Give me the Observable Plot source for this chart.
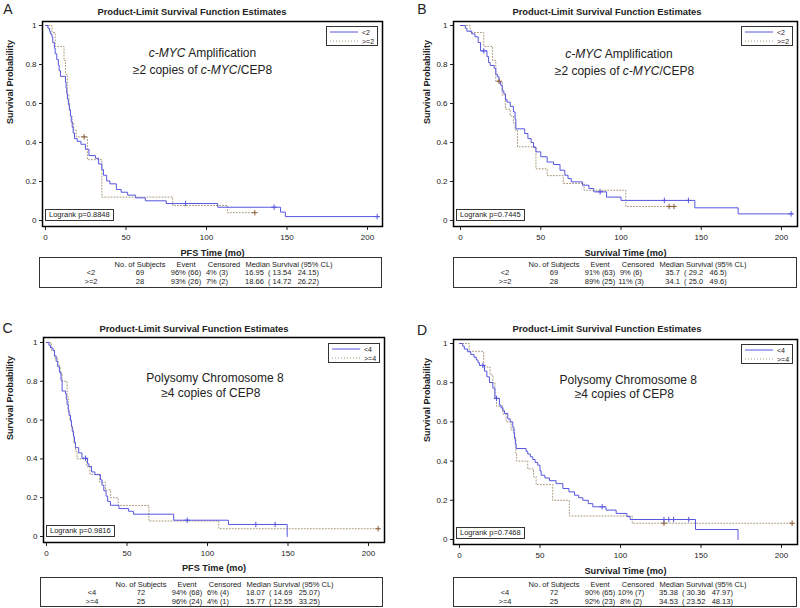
<!DOCTYPE html>
<html><head><meta charset="utf-8">
<script src="https://cdn.jsdelivr.net/npm/d3@7"></script>
<script src="https://cdn.jsdelivr.net/npm/@observablehq/plot@0.6"></script>
<style>
body{margin:0;background:#fff;font-family:"Liberation Sans",Arial,Helvetica,sans-serif;color:#222;}
#root{position:relative;width:800px;height:608px;overflow:hidden;background:#fff;}
.abs{position:absolute;}
.c{position:absolute;transform:translate(-50%,-50%);white-space:pre;line-height:1;}
.letter{font-size:14px;}
.title{font-size:9.4px;font-weight:bold;}
.ann{font-size:12px;color:#222;}
.box{position:absolute;border:1px solid #333;box-sizing:border-box;background:#fff;}
.legend{font-size:7px;}
.lg-row{position:absolute;left:3px;height:8px;display:flex;align-items:center;}
.lg-row span{margin-left:4px;line-height:1;}
.logrank{font-size:7.5px;line-height:10px;padding:0 3px;white-space:nowrap;}
.tbl{font-size:7.5px;}
</style></head><body><div id="root"></div>
<script>
// ---------- data ----------
const xTicks = [0, 50, 100, 150, 200];
const yTicks = [0, 0.2, 0.4, 0.6, 0.8, 1];
const groupsMyc = ["<2", ">=2"];
const groupsCep = ["<4", ">=4"];
const tableHeader = ["No. of Subjects", "Event", "Censored", "Median Survival (95% CL)"];

// Panel A: c-MYC, PFS
const aLow = [[0,1],[1.5,0.986],[2.5,0.971],[3,0.957],[4,0.942],[4.5,0.913],[5.5,0.884],[6,0.855],[7,0.826],[8,0.797],[8.5,0.768],[9.3,0.739],[12.4,0.71],[12.8,0.681],[13.2,0.652],[13.6,0.623],[14.2,0.594],[14.8,0.565],[15.5,0.536],[16,0.507],[16.6,0.478],[17.2,0.449],[18,0.42],[19.7,0.406],[22,0.391],[24.8,0.365],[27,0.333],[31,0.319],[33,0.29],[35,0.261],[36,0.232],[38,0.203],[40,0.188],[44,0.159],[47,0.145],[51,0.13],[56,0.116],[62,0.101],[75,0.087],[107,0.068],[146,0.043],[149,0.02],[207,0.02]];
const aHigh = [[0,1],[4,0.964],[6,0.893],[11.5,0.821],[12.4,0.75],[13.5,0.643],[14.5,0.607],[15,0.571],[15.5,0.536],[16.5,0.5],[17.5,0.464],[19,0.429],[26,0.312],[35,0.12],[79,0.077],[113,0.04],[130,0.04]];
const aLowCensor = [[87,0.087],[142,0.068],[206,0.02]];
const aHighCensor = [[24,0.429],[130,0.04]];
const tableA = [["<2","69","96%","66","4%","3","16.95","13.54","24.15"],[">=2","28","93%","26","7%","2","18.66","14.72","26.22"]];

// Panel B: c-MYC, overall survival
const bLow = [[0,1],[3,0.986],[4,0.971],[7,0.957],[9,0.942],[11,0.913],[12.5,0.87],[16.5,0.84],[17.5,0.81],[18.5,0.795],[21,0.78],[22,0.75],[23,0.737],[24,0.71],[25,0.694],[26,0.665],[27,0.65],[28,0.62],[29,0.607],[31,0.585],[33,0.557],[34,0.52],[34.5,0.47],[40,0.446],[42,0.42],[44,0.4],[45.5,0.375],[47,0.352],[50,0.327],[54,0.3],[58,0.287],[62,0.258],[65,0.232],[67,0.215],[69,0.198],[76,0.181],[80,0.164],[83,0.147],[91,0.12],[100,0.103],[146,0.065],[173,0.034],[207,0.034]];
const bHigh = [[0,1],[6,0.964],[14.5,0.893],[20,0.821],[22,0.714],[26,0.643],[28,0.571],[31,0.536],[33,0.5],[34,0.464],[35.5,0.378],[47,0.265],[54,0.23],[64,0.19],[77,0.155],[103,0.072],[133,0.072]];
const bLowCensor = [[14.5,0.87],[87,0.147],[127,0.103],[142,0.103],[206,0.034]];
const bHighCensor = [[24,0.714],[130,0.072],[133,0.072]];
const tableB = [["<2","69","91%","63","9%","6","35.7","29.2","46.5"],[">=2","28","89%","25","11%","3","34.1","25.0","49.6"]];

// Panel C: CEP8, PFS
const cLow = [[0,1],[1.5,0.986],[2.5,0.972],[4,0.958],[5,0.931],[6,0.903],[7,0.875],[8,0.847],[9,0.806],[9.7,0.75],[11.8,0.736],[12.3,0.708],[12.8,0.681],[13.5,0.653],[14,0.625],[14.9,0.597],[15.5,0.569],[16,0.542],[16.8,0.514],[17.4,0.486],[18,0.458],[20,0.431],[22,0.403],[25.5,0.375],[26.3,0.361],[28,0.333],[30,0.319],[33.5,0.292],[34.5,0.264],[35.6,0.236],[37,0.208],[38,0.181],[39.7,0.161],[45,0.144],[51,0.13],[54,0.115],[79,0.084],[113,0.062],[149.5,0]];
const cHigh = [[0,1],[3,0.96],[5,0.92],[7,0.88],[8.5,0.84],[9.7,0.8],[12.8,0.72],[13.5,0.64],[14.5,0.6],[15.5,0.56],[16.5,0.52],[17,0.48],[18,0.44],[19,0.4],[25,0.36],[27,0.32],[33,0.28],[36.6,0.24],[39.8,0.2],[44.5,0.16],[63.6,0.08],[107,0.04],[206,0.04]];
const cLowCensor = [[24.2,0.403],[87.4,0.084],[130,0.062],[142,0.062]];
const cHighCensor = [[206,0.04]];
const tableC = [["<4","72","94%","68","6%","4","18.07","14.69","25.07"],[">=4","25","96%","24","4%","1","15.77","12.55","33.25"]];

// Panel D: CEP8, overall survival
const dLow = [[0,1],[2,0.986],[3,0.972],[5,0.958],[7,0.944],[9,0.93],[10.4,0.916],[11.5,0.902],[12.4,0.888],[15.5,0.859],[17,0.83],[18.6,0.801],[20.7,0.772],[22,0.72],[24.8,0.686],[25.8,0.672],[26.9,0.657],[28,0.643],[30,0.615],[31.5,0.6],[33.1,0.572],[33.8,0.543],[34.2,0.514],[34.7,0.486],[35.2,0.464],[41.4,0.45],[42.4,0.436],[44,0.422],[45.5,0.408],[47,0.393],[48.6,0.379],[50,0.35],[50.7,0.328],[53,0.314],[55.9,0.3],[60,0.285],[64.2,0.26],[68,0.243],[71.4,0.226],[74,0.213],[76.6,0.2],[80,0.183],[82.8,0.167],[91,0.15],[97.3,0.133],[104,0.117],[106,0.102],[146.6,0.051],[173,0]];
const dHigh = [[0,1],[6,0.96],[15,0.88],[19,0.84],[20.7,0.8],[22,0.72],[23,0.68],[27,0.64],[29,0.6],[32,0.56],[34,0.52],[35,0.44],[35.5,0.4],[42.4,0.36],[46,0.32],[47.6,0.28],[57.9,0.2],[68.2,0.12],[107.3,0.083],[206.6,0.083]];
const dLowCensor = [[14.5,0.888],[23,0.72],[88.6,0.167],[127,0.102],[130,0.102],[133,0.102],[142.4,0.102]];
const dHighCensor = [[127,0.083],[206.6,0.083]];
const tableD = [["<4","72","90%","65","10%","7","35.38","30.36","47.97"],[">=4","25","92%","23","8%","2","34.53","23.52","48.13"]];

const annMyc = ['<i>c-MYC</i> Amplification', '\u22652 copies of <i>c-MYC</i>/CEP8'];
const annCep = ['Polysomy Chromosome 8', '\u22654 copies of CEP8'];
const logranks = ["0.8848", "0.7445", "0.9816", "0.7468"];

// ---------- styling / layout ----------
const BLUE = "#5656e0", DOT = "#a8987a", DOTC = "#8a5a36";
const FONT = '"Liberation Sans", Arial, Helvetica, sans-serif';

const panels = [
  {letter:"A", ox:0, oy:0, h:262, fl:42, fr:382, ft:21, fb:226, x0:45, x200:367, y1:25, y0:220,
   letterPos:[8,9], titlePos:[192,12], xLabel:"PFS Time (mo)", xlabDy:27, ylabDx:-32,
   ann:annMyc, annPos:[[202.5,53],[202.5,70]], groups:groupsMyc,
   low:aLow, high:aHigh, lowC:aLowCensor, highC:aHighCensor, lr:logranks[0], tbl:[39,257,343,31], rows:tableA},
  {letter:"B", ox:400, oy:0, h:262, fl:453, fr:797, ft:21, fb:226, x0:460, x200:781, y1:25, y0:220,
   letterPos:[422,8.5], titlePos:[607,12], xLabel:"Survival Time (mo)", xlabDy:27, ylabDx:-26,
   ann:annMyc, annPos:[[619,54],[624.5,71]], groups:groupsMyc,
   low:bLow, high:bHigh, lowC:bLowCensor, highC:bHighCensor, lr:logranks[1], tbl:[453,257,344,31], rows:tableB},
  {letter:"C", ox:0, oy:300, h:276, fl:43, fr:384, ft:337, fb:542, x0:46, x200:368, y1:342, y0:536,
   letterPos:[7.5,328], titlePos:[194,328.5], xLabel:"PFS Time (mo)", xlabDy:26, ylabDx:-33,
   ann:annCep, annPos:[[215,378.3],[210.8,392.7]], groups:groupsCep,
   low:cLow, high:cHigh, lowC:cLowCensor, highC:cHighCensor, lr:logranks[2], tbl:[40,577,343,30], rows:tableC},
  {letter:"D", ox:400, oy:300, h:276, fl:453, fr:797, ft:339, fb:544, x0:459, x200:781, y1:343, y0:539,
   letterPos:[422,330], titlePos:[607,329], xLabel:"Survival Time (mo)", xlabDy:26.5, ylabDx:-26,
   ann:annCep, annPos:[[628.3,380],[624.3,394.3]], groups:groupsCep,
   low:dLow, high:dHigh, lowC:dLowCensor, highC:dHighCensor, lr:logranks[3], tbl:[453,577,344,30], rows:tableD}
];

const root = document.getElementById("root");
function el(tag, cls, css, html){
  const e = document.createElement(tag);
  if (cls) e.className = cls;
  if (css) Object.assign(e.style, css);
  if (html != null) e.innerHTML = html;
  root.appendChild(e);
  return e;
}

for (const p of panels) {
  const k = (p.x200 - p.x0) / 200;
  const xd = [(p.fl - p.x0) / k, (p.fr - p.x0) / k];
  const ky = p.y0 - p.y1;
  const yd = [-(p.fb - p.y0) / ky, 1 + (p.y1 - p.ft) / ky];
  const svg = Plot.plot({
    width: 400, height: p.h,
    marginLeft: p.fl - p.ox, marginRight: p.ox + 400 - p.fr,
    marginTop: p.ft - p.oy, marginBottom: p.oy + p.h - p.fb,
    x: {domain: xd}, y: {domain: yd},
    style: {fontFamily: FONT, fontSize: "8px", color: "#222", background: "transparent", overflow: "visible"},
    marks: [
      Plot.axisX({ticks: xTicks, tickSize: 4, tickPadding: 4, label: null, tickFormat: d => String(d), fontSize: 8}),
      Plot.axisY({ticks: yTicks, tickSize: 3, tickPadding: 3, label: null, tickFormat: d => String(d), fontSize: 8}),
      Plot.line(p.high, {x: d => d[0], y: d => d[1], curve: "step-after", stroke: DOT, strokeWidth: 1, strokeDasharray: "1,2"}),
      Plot.line(p.low, {x: d => d[0], y: d => d[1], curve: "step-after", stroke: BLUE, strokeWidth: 1}),
      Plot.dot(p.highC, {x: d => d[0], y: d => d[1], symbol: "plus", r: 1.9, stroke: DOTC, strokeWidth: 1}),
      Plot.dot(p.lowC, {x: d => d[0], y: d => d[1], symbol: "plus", r: 1.9, stroke: BLUE, strokeWidth: 1}),
      Plot.frame({stroke: "#000", strokeWidth: 1.5}),
      Plot.text([p.xLabel], {frameAnchor: "bottom", lineAnchor: "middle", dy: p.xlabDy, fontWeight: "bold", fontSize: 9.2}),
      Plot.text(["Survival Probability"], {frameAnchor: "left", lineAnchor: "middle", rotate: -90, dx: p.ylabDx, fontWeight: "bold", fontSize: 9})
    ]
  });
  const wrap = el("div", "abs", {left: p.ox + "px", top: p.oy + "px", width: "400px", height: p.h + "px"});
  wrap.appendChild(svg);

  // panel letter & title
  el("div", "c letter", {left: p.letterPos[0] + "px", top: p.letterPos[1] + "px"}, p.letter);
  el("div", "c title", {left: p.titlePos[0] + "px", top: p.titlePos[1] + "px"}, "Product-Limit Survival Function Estimates");
  // annotation
  p.ann.forEach((t, i) => el("div", "c ann", {left: p.annPos[i][0] + "px", top: p.annPos[i][1] + "px"}, t));

  // legend
  const lg = el("div", "box legend", {left: (p.fr - 56) + "px", top: (p.y1 + 1) + "px", width: "52px", height: "20px"});
  p.groups.forEach((g, i) => {
    const row = document.createElement("div");
    row.className = "lg-row";
    row.style.top = (1 + i * 9) + "px";
    const dash = i === 0 ? "" : ' stroke-dasharray="1,2"';
    const col = i === 0 ? BLUE : DOT;
    row.innerHTML = `<svg width="28" height="4"><line x1="0" y1="2" x2="28" y2="2" stroke="${col}" stroke-width="1"${dash}/></svg><span>${g.replace("<","&lt;").replace(">","&gt;")}</span>`;
    lg.appendChild(row);
  });

  // logrank box
  el("div", "box logrank", {left: (p.fl + 3) + "px", top: (p.fb - 17) + "px", height: "12px"}, "Logrank p=" + p.lr);

  // table
  const [tl, tt, tw, th] = p.tbl;
  el("div", "box", {left: tl + "px", top: tt + "px", width: tw + "px", height: th + "px"});
  const hx = [101, 147, 185, 250];
  tableHeader.forEach((h, i) => el("div", "c tbl", {left: (tl + hx[i]) + "px", top: (tt + 7.5) + "px"}, h));
  const rx = [52, 101, 147, 178, 243];
  p.rows.forEach((r, j) => {
    const cells = [r[0], r[1], `${r[2]} (${r[3]})`, `${r[4]} (${r[5]})`, `${r[6]}  ( ${r[7]}   ${r[8]})`];
    cells.forEach((c, i) => {
      const e = el("div", "c tbl", {left: (tl + rx[i]) + "px", top: (tt + 16 + j * 9) + "px"});
      e.textContent = c;
    });
  });
}
</script></body></html>
